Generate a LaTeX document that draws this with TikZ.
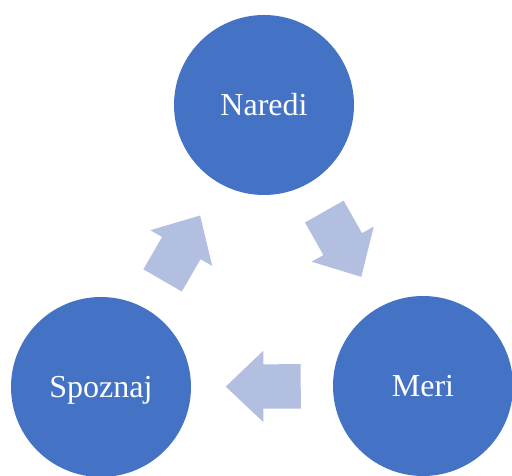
\documentclass[tikz,border=0pt]{standalone}
\usepackage{fontspec}
\setmainfont{Liberation Serif}
\usepackage{tikz}
\usetikzlibrary{positioning, shapes.arrows, calc}
\definecolor{phaseblue}{RGB}{68,114,196}
\definecolor{flowblue}{RGB}{178,191,224}

\begin{document}
\begin{tikzpicture}[x=1pt, y=-1pt,
		phase/.style={circle, fill=phaseblue, text=white, minimum size=180pt, inner sep=0pt,
			font=\fontsize{32}{38}\selectfont, text height=21pt, text depth=0pt},
		flow/.style={single arrow, fill=flowblue, draw=none, inner xsep=0pt, inner ysep=22pt,
			minimum height=75pt, single arrow head extend=13.5pt,
			single arrow tip angle=87, sloped, allow upside down, anchor=tail, pos=0.225}]
	\useasboundingbox (0,0) rectangle (512,476);

	\node[phase] (naredi) at (264,105) {Naredi};
	\node[phase] (meri) at (423,386) {Meri};
	\node[phase] (spoznaj) at (101,387) {Spoznaj};

	% block arrows half way between the circles
	\path (naredi) -- node[flow] (naredi meri) {} (meri);
	\path (meri) -- node[flow] (meri spoznaj) {} (spoznaj);
	\path (spoznaj) -- node[flow] (spoznaj naredi) {} (naredi);
\end{tikzpicture}
\end{document}
